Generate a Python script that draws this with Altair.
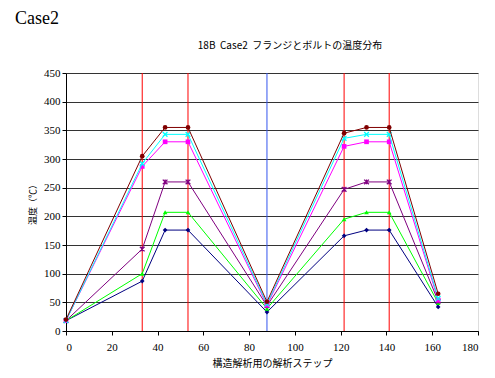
import altair as alt
import pandas as pd

steps = [0, 33.3, 43.3, 53.3, 87.8, 121.5, 131.3, 141.2, 162.6]
s_brown = [20, 305, 355, 355, 51, 345, 355, 355, 65]
s_cyan = [18, 292, 343, 343, 47, 336, 343, 343, 57]
s_magenta = [18, 287, 330, 330, 45, 322, 330, 330, 54]
s_purple = [18, 143, 260, 260, 44, 247, 260, 260, 52]
s_green = [18, 100, 207, 207, 39, 195, 207, 207, 49]
s_navy = [18, 87, 176, 176, 33, 166, 176, 176, 42]

red_lines = [33.3, 53.3, 121.5, 141.2]
blue_lines = [87.8]

series = [
    ("s1", s_brown, "#800000", "circle", True),
    ("s2", s_cyan, "#00FFFF", "M-1,-1L1,1M-1,1L1,-1", False),
    ("s3", s_magenta, "#FF00FF", "square", True),
    ("s4", s_purple, "#800080", "M-1,-1L1,1M-1,1L1,-1M0,-1L0,1", False),
    ("s5", s_green, "#00FF00", "triangle-up", True),
    ("s6", s_navy, "#000080", "diamond", True),
]

x_scale = alt.Scale(domain=[0, 180], nice=False)
y_scale = alt.Scale(domain=[0, 450], nice=False)

x_axis = alt.Axis(values=list(range(0, 181, 20)), grid=False, title="構造解析用の解析ステップ",
                  labelPadding=6, titlePadding=6, titleFontSize=10)
y_axis = alt.Axis(values=list(range(0, 451, 50)), grid=True, title="温度（℃）", titlePadding=6)

layers = []

red_df = pd.DataFrame({"x": red_lines})
blue_df = pd.DataFrame({"x": blue_lines})
layers.append(alt.Chart(red_df).mark_rule(color="#FF0000", strokeWidth=1).encode(
    x=alt.X("x:Q", scale=x_scale, axis=x_axis)))
layers.append(alt.Chart(blue_df).mark_rule(color="#3355EE", strokeWidth=1).encode(
    x=alt.X("x:Q", scale=x_scale, axis=x_axis)))

for name, vals, col, shape, filled in reversed(series):
    df = pd.DataFrame({"step": steps, "temp": vals})
    base = alt.Chart(df).encode(
        x=alt.X("step:Q", scale=x_scale, axis=x_axis),
        y=alt.Y("temp:Q", scale=y_scale, axis=y_axis),
    )
    layers.append(base.mark_line(color=col, strokeWidth=1))
    if filled:
        layers.append(base.mark_point(shape=shape, filled=True, color=col, size=22, opacity=1))
    else:
        layers.append(base.mark_point(shape=shape, filled=False, color=col, size=22,
                                      strokeWidth=1.3, opacity=1))

case_df = pd.DataFrame({"t": ["Case2"]})
layers.append(alt.Chart(case_df).mark_text(align="left", baseline="alphabetic",
                                           font="Liberation Serif", fontSize=18,
                                           color="#000").encode(
    text="t:N", x=alt.value(-51), y=alt.value(-49)))

title_df = pd.DataFrame({"t": ["18B\u00a0\u00a0Case2\u00a0\u00a0フランジとボルトの温度分布"]})
layers.append(alt.Chart(title_df).mark_text(align="center", baseline="alphabetic",
                                            font="Noto Sans CJK JP", fontSize=10,
                                            color="#000").encode(
    text="t:N", x=alt.value(224), y=alt.value(-24)))

chart = alt.layer(*layers).properties(
    width=412, height=258,
    autosize=alt.AutoSizeParams(type="none"),
    padding={"left": 58, "top": 65, "right": 6, "bottom": 39},
).configure_view(stroke="#aaa", strokeWidth=1).configure(background="white").configure_axis(
    labelFont="Liberation Serif", labelFontSize=11, labelColor="#000",
    titleFont="Noto Sans CJK JP", titleFontSize=9, titleFontWeight="normal",
    titleColor="#000", tickSize=4, tickColor="#000", domainColor="#000",
    gridColor="#333", gridWidth=1,
)

chart.save("out.html", embed_options={"renderer": "svg", "actions": False})
